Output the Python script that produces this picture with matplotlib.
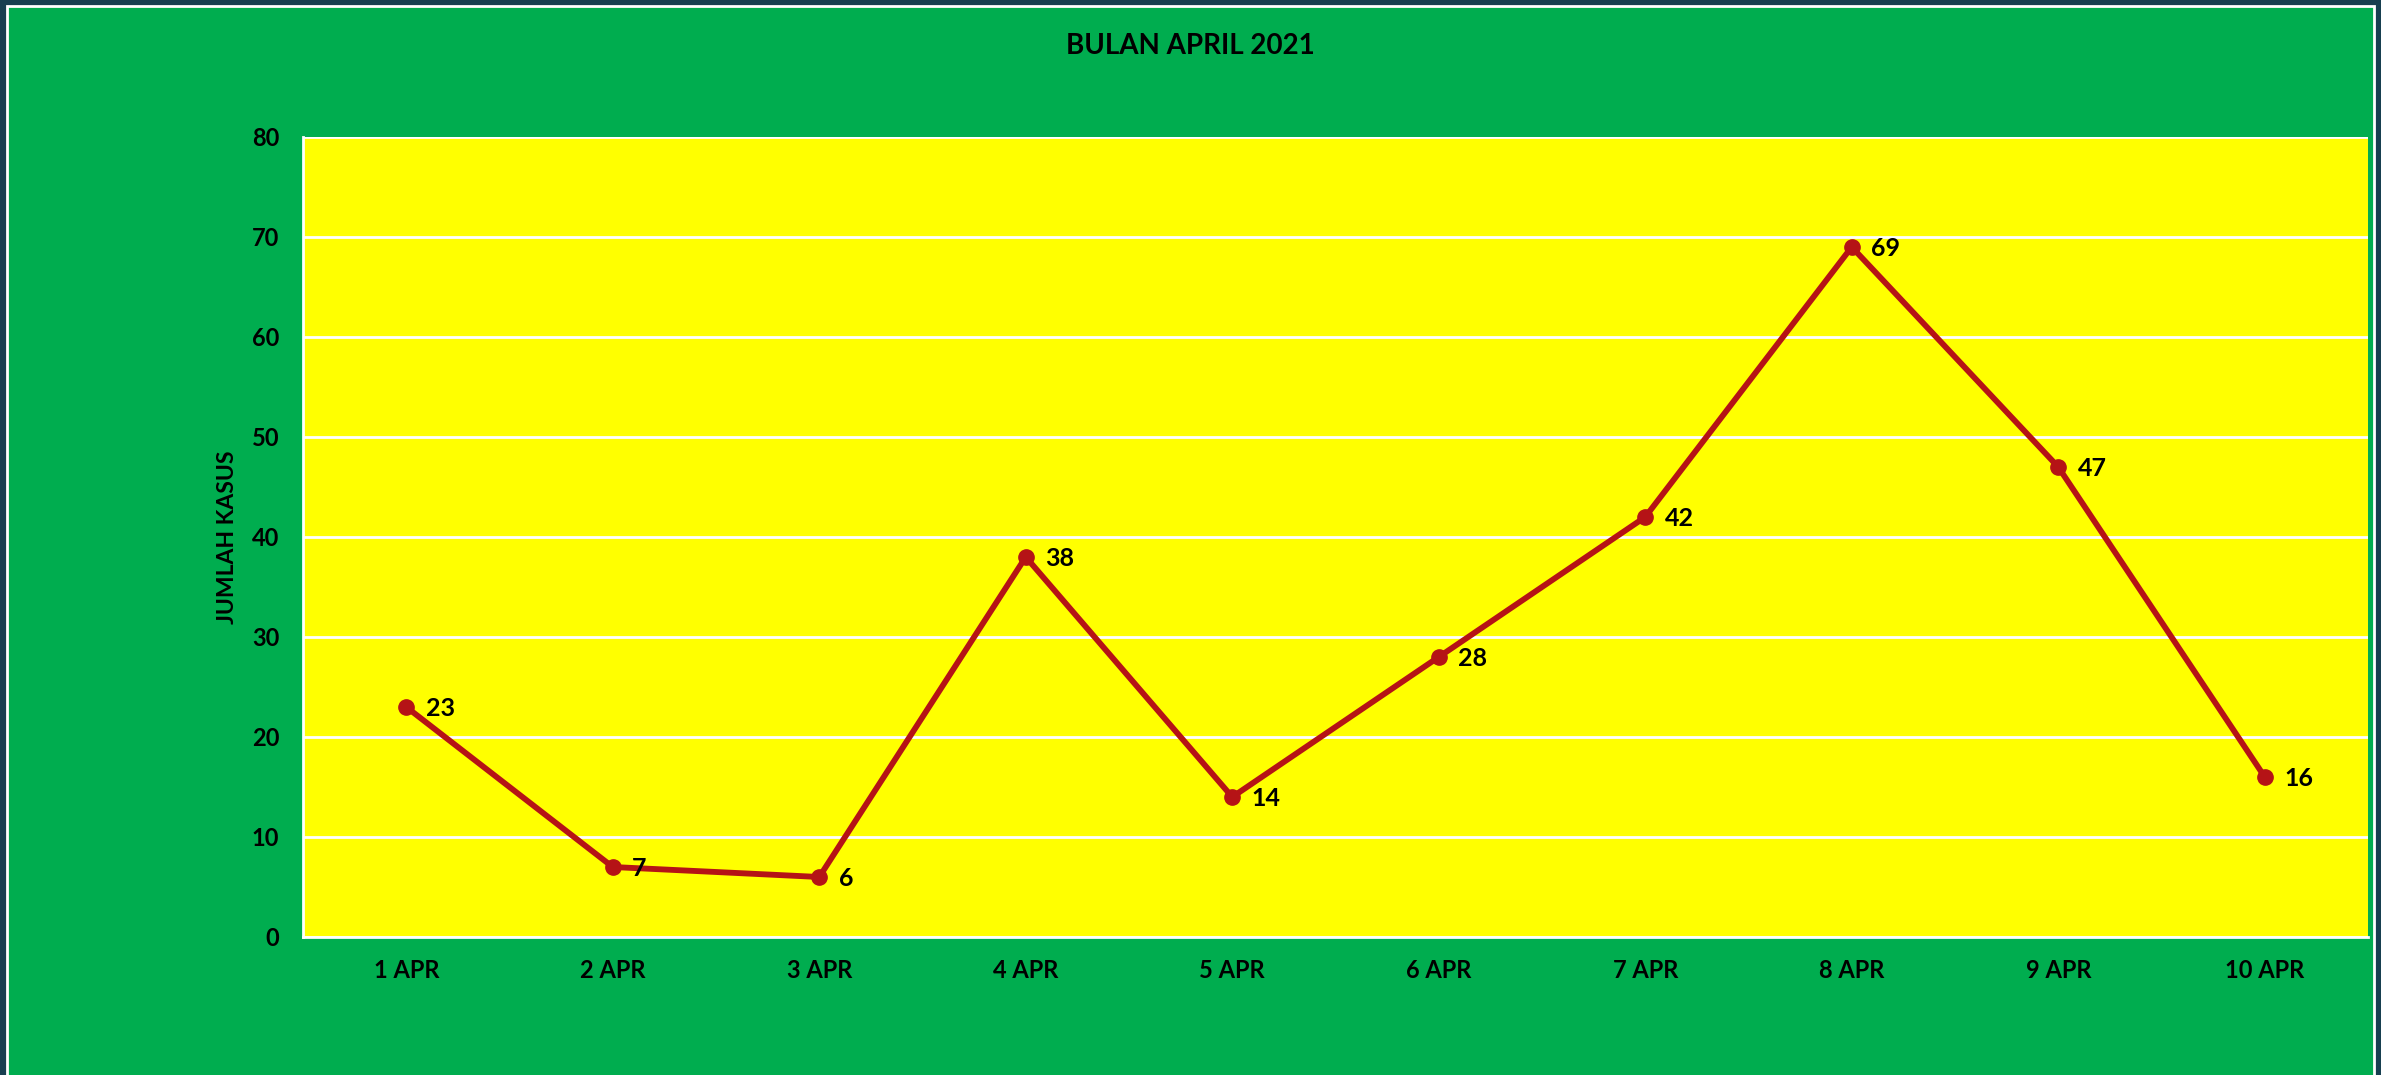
import matplotlib
matplotlib.use("Agg")
import matplotlib.pyplot as plt
from matplotlib.patches import Rectangle

categories = ["1 APR", "2 APR", "3 APR", "4 APR", "5 APR", "6 APR", "7 APR", "8 APR", "9 APR", "10 APR"]
values = [23, 7, 6, 38, 14, 28, 42, 69, 47, 16]
yticks = [0, 10, 20, 30, 40, 50, 60, 70, 80]
title = "BULAN APRIL 2021"
ylabel = "JUMLAH KASUS"

plt.rcParams['font.family'] = ['Lato', 'DejaVu Sans']
plt.rcParams['font.weight'] = 'bold'

W, H = 2381, 1075
fig = plt.figure(figsize=(W / 100, H / 100), dpi=100)
fig.patch.set_facecolor("#173F50")

# green chart area with white outline
fig.patches.append(Rectangle((7 / W, -0.01), (2374 - 7) / W, (H - 6) / H + 0.01,
                             transform=fig.transFigure, facecolor="#00AD4F",
                             edgecolor="white", linewidth=2, zorder=-5))

ax = fig.add_axes([303 / W, 1 - 937 / H, (2368 - 303) / W, (937 - 137) / H])
ax.set_zorder(2)
ax.set_facecolor("#FFFF00")

x = list(range(len(categories)))
ax.plot(x, values, color="#B51316", linewidth=4.2, marker="o", markersize=11,
        markerfacecolor="#B51316", markeredgecolor="#B51316", zorder=3, clip_on=False)
for xi, v in zip(x, values):
    ax.annotate(str(v), (xi, v), xytext=(14, -1), textcoords="offset points",
                ha="left", va="center", fontsize=18, fontweight="bold", color="black", zorder=4)

ax.set_xlim(-0.5, len(categories) - 0.5)
ax.set_ylim(0, 80)
ax.set_yticks(yticks)
ax.set_xticks(x)
ax.set_xticklabels(categories)
ax.tick_params(axis="both", length=0, labelsize=17, labelcolor="black")
ax.tick_params(axis="y", pad=17)
ax.tick_params(axis="x", pad=16)
for lab in ax.get_xticklabels() + ax.get_yticklabels():
    lab.set_fontweight("bold")
ax.grid(axis="y", color="white", linewidth=2)
ax.set_axisbelow(True)
for s in ["top", "right"]:
    ax.spines[s].set_visible(False)
ax.spines["left"].set_color("white")
ax.spines["left"].set_linewidth(2)
ax.spines["bottom"].set_color("white")
ax.spines["bottom"].set_linewidth(2)

fig.text(1190 / W, 1 - 46 / H, title, ha="center", va="center", fontsize=20,
         fontweight="bold", color="black", zorder=3)
fig.text(228 / W, 1 - 537 / H, ylabel, ha="center", va="center", rotation=90,
         fontsize=16.5, fontweight="bold", color="black", zorder=3)

fig.savefig("out.png", dpi=100, facecolor=fig.get_facecolor())
